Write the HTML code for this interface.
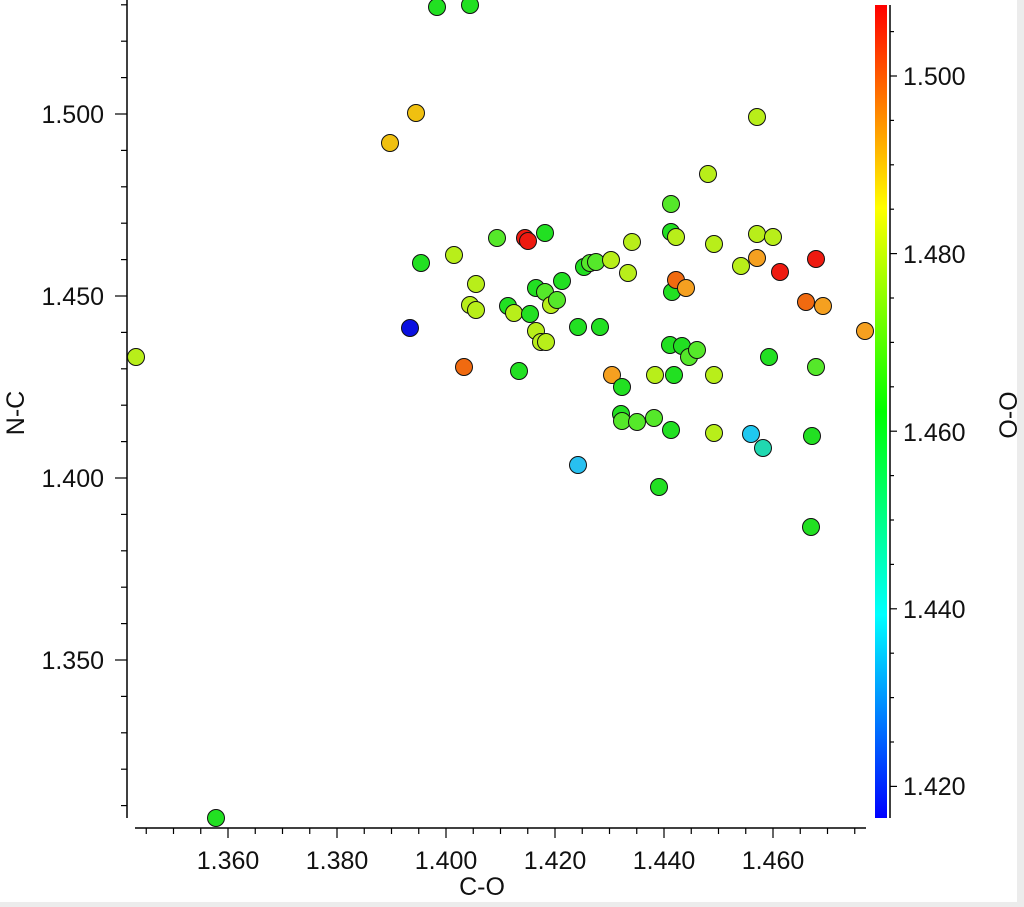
<!DOCTYPE html><html><head><style>body{margin:0;background:#fff}svg{display:block}</style></head><body>
<svg width="1024" height="907" xmlns="http://www.w3.org/2000/svg" font-family="Liberation Sans, sans-serif">
<defs><linearGradient id="cb" x1="0" y1="1" x2="0" y2="0">
<stop offset="0" stop-color="#0000ff"/><stop offset="0.25" stop-color="#00ffff"/><stop offset="0.5" stop-color="#00ff00"/><stop offset="0.75" stop-color="#ffff00"/><stop offset="1" stop-color="#ff0000"/></linearGradient></defs>
<rect x="0" y="902" width="1024" height="5" fill="#ececec"/>
<rect x="1017" y="0" width="7" height="907" fill="#ececec"/>
<g stroke="#000" stroke-width="1.5">
<line x1="127" y1="0" x2="127" y2="818"/>
<line x1="135" y1="828" x2="866" y2="828"/>
<line x1="890" y1="5" x2="890" y2="818"/>
</g>
<g id="yt" stroke="#000" stroke-width="1.2"></g>
<g id="xt" stroke="#000" stroke-width="1.2"></g>
<g id="ct" stroke="#000" stroke-width="1.2"></g>
<rect x="875" y="5" width="12" height="813" fill="url(#cb)"/>
<g font-size="25" fill="#111" text-anchor="end">
<text x="104" y="123">1.500</text><text x="104" y="305">1.450</text><text x="104" y="487">1.400</text><text x="104" y="669">1.350</text>
</g>
<g font-size="25" fill="#111" text-anchor="middle">
<text x="228" y="869">1.360</text><text x="337" y="869">1.380</text><text x="446" y="869">1.400</text><text x="555" y="869">1.420</text><text x="664" y="869">1.440</text><text x="773" y="869">1.460</text>
<text x="482" y="895">C-O</text>
<text transform="translate(24,413) rotate(-90)">N-C</text>
<text transform="translate(1017,415) rotate(-90)">O-O</text>
</g>
<g font-size="25" fill="#111">
<text x="903" y="85">1.500</text><text x="903" y="263">1.480</text><text x="903" y="441">1.460</text><text x="903" y="618">1.440</text><text x="903" y="795">1.420</text>
</g>
<g id="pts" stroke="#111" stroke-width="1"></g>
<script>
var ns="http://www.w3.org/2000/svg";
function L(g,x1,y1,x2,y2){var l=document.createElementNS(ns,"line");l.setAttribute("x1",x1);l.setAttribute("y1",y1);l.setAttribute("x2",x2);l.setAttribute("y2",y2);document.getElementById(g).appendChild(l);}
for(var i=-3;i<23;i++){var y=114+i*36.4;if(y<2||y>815)continue;L("yt",127-(i%5==0?12:6),y,127,y);}
for(var i=-3;i<30;i++){var x=228+i*27.25;if(x<140||x>866)continue;L("xt",x,828,x,828+(i%4==0?10:6));}
for(var i=-2;i<20;i++){var y=76+i*44.4;if(y<8||y>815)continue;L("ct",890,y,890+(i%4==0?7:4),y);}
var Y="#b8ee1a",G="#22e022",G2="#55e82a",O="#f5a020",OR="#f06a10",R="#ee1a10",YO="#f0c010";
var P=[[136,357,Y],[216,818,G],[437,7,G],[470,5,G],[416,113,YO],[390,143,YO],[757,117,Y],[708,174,Y],[671,204,G2],[525,238,R],[528,241,R],[545,233,G],[497,238,G2],[454,255,Y],[421,263,G],[476,284,Y],[470,305,Y],[476,310,Y],[410,328,"#0a10e0"],[508,306,G],[514,313,Y],[530,314,G],[536,288,G],[545,292,G2],[551,305,Y],[557,300,G2],[562,281,G],[536,331,Y],[541,342,Y],[546,342,Y],[519,371,G],[464,367,OR],[578,327,G],[600,327,G],[584,267,G],[590,263,G2],[596,262,G2],[611,260,Y],[628,273,Y],[632,242,Y],[671,232,G],[676,237,Y],[672,292,G],[676,280,OR],[686,288,O],[714,244,Y],[757,234,Y],[773,237,Y],[741,266,Y],[757,258,O],[780,272,R],[816,259,R],[806,302,OR],[823,306,O],[865,331,O],[670,345,G],[682,346,G],[689,357,G2],[697,350,G2],[674,375,G],[655,375,Y],[612,375,O],[622,387,G],[621,414,G],[622,421,G2],[637,422,G2],[654,418,G2],[671,430,G],[714,375,Y],[714,433,Y],[751,434,"#20c8f0"],[763,448,"#20d8b0"],[769,357,G],[816,367,G2],[812,436,G],[578,465,"#28c0f0"],[659,487,G],[811,527,G]];
P.forEach(function(p){var c=document.createElementNS(ns,"circle");c.setAttribute("cx",p[0]);c.setAttribute("cy",p[1]);c.setAttribute("r",8.5);c.setAttribute("fill",p[2]);document.getElementById("pts").appendChild(c);});
</script>
</svg></body></html>
